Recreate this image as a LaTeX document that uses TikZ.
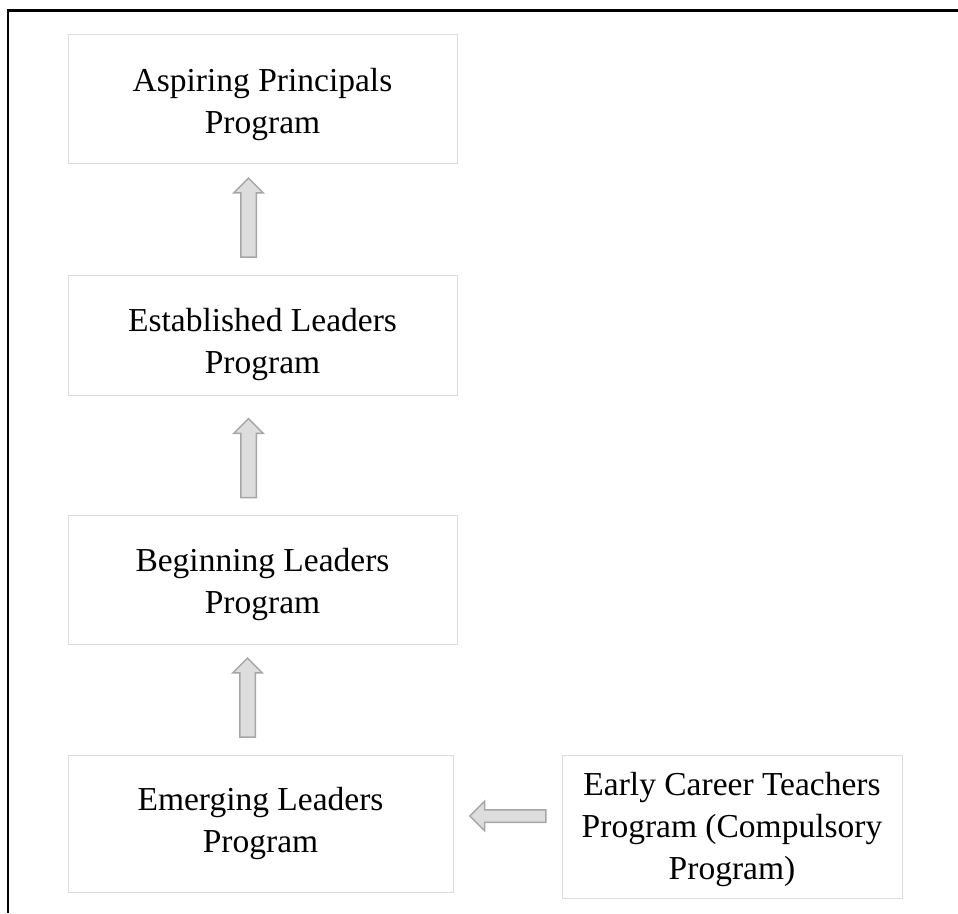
\documentclass[tikz,border=0pt]{standalone}
\usepackage{fontspec}
\setmainfont{Liberation Serif}
\usetikzlibrary{shapes.arrows,calc}
\definecolor{boxline}{HTML}{DCDCDC}
\definecolor{arrowline}{HTML}{A6A6A6}
\definecolor{arrowfill}{HTML}{DDDDDD}
\tikzset{
  prog/.style={draw=boxline,line width=1pt,inner sep=0pt},
  progtext/.style={align=center,inner sep=0pt,font=\fontsize{33.5}{42}\selectfont},
  blockarrow/.style={single arrow,draw=arrowline,fill=arrowfill,line width=1.5pt,
    single arrow head indent=0pt},
  uparrow/.style={blockarrow,shape border rotate=90,inner xsep=7pt,inner ysep=0pt,
    single arrow head extend=7pt,minimum height=79pt}
}
\begin{document}
\begin{tikzpicture}[x=1pt,y=-1pt]
  \useasboundingbox (0,0) rectangle (958,913);
  \draw[line width=2.4pt] (8,913) -- (8,10.5) -- (958,10.5);
  \node[prog,minimum width=389pt,minimum height=129pt,
    label={[progtext,yshift=-5.5pt]center:{Aspiring Principals\\Program}}] (aspiring) at (262.5,98.5) {};
  \node[prog,minimum width=389pt,minimum height=120pt,
    label={[progtext,yshift=-9pt]center:{Established Leaders\\Program}}] (established) at (262.5,335) {};
  \node[prog,minimum width=389pt,minimum height=129pt,
    label={[progtext,yshift=-5pt]center:{Beginning Leaders\\Program}}] (beginning) at (262.5,579.5) {};
  \node[prog,minimum width=385pt,minimum height=137pt,
    label={[progtext]center:{Emerging Leaders\\Program}}] (emerging) at (260.5,823.5) {};
  \node[prog,minimum width=340pt,minimum height=143pt,
    label={[progtext,yshift=-3pt]center:{Early Career Teachers\\Program (Compulsory\\Program)}}] (early) at (732,826.5) {};
  \node[uparrow] (up1) at ($(aspiring.south)!0.5!(established.north)+(-14,2.5)$) {};
  \node[uparrow] (up2) at ($(established.south)!0.5!(beginning.north)+(-14,7)$) {};
  \node[uparrow] (up3) at ($(beginning.south)!0.5!(emerging.north)+(-14,2)$) {};
  \node[blockarrow,shape border rotate=180,inner xsep=0pt,inner ysep=5.5pt,
    single arrow head extend=8.5pt,minimum height=76pt] (left1) at ($(emerging.east)!0.5!(early.west)+(3.5,-9)$) {};
\end{tikzpicture}
\end{document}
